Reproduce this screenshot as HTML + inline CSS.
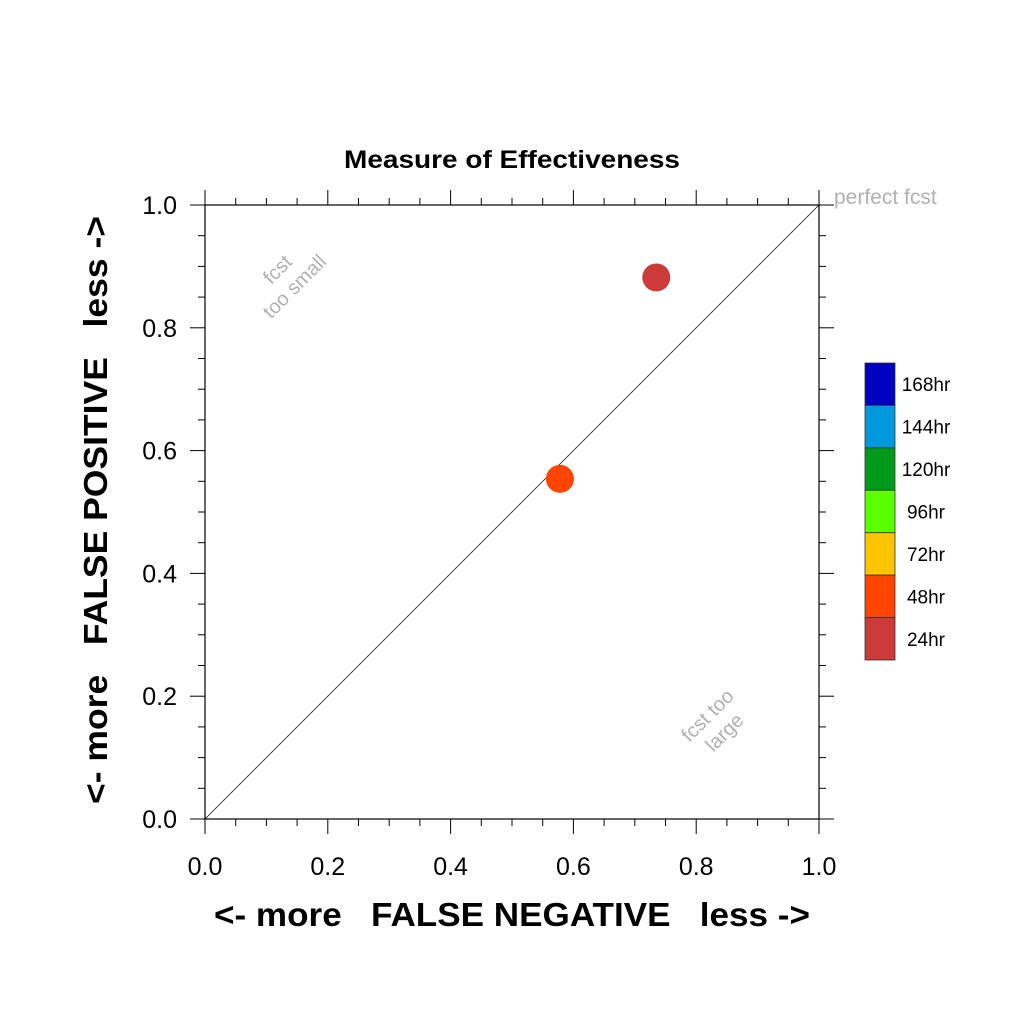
<!DOCTYPE html>
<html><head><meta charset="utf-8"><style>
body{margin:0;background:#fff}
svg{display:block;font-family:"Liberation Sans",sans-serif}
</style></head><body>
<svg id="c" width="1024" height="1024" viewBox="0 0 1024 1024">
<text x="512" y="168" text-anchor="middle" font-size="25" font-weight="bold" textLength="336" lengthAdjust="spacingAndGlyphs">Measure of Effectiveness</text>
<text x="512" y="926" text-anchor="middle" font-size="33" font-weight="bold" xml:space="preserve" textLength="596" lengthAdjust="spacingAndGlyphs">&lt;- more   FALSE NEGATIVE   less -&gt;</text>
<text transform="translate(107,510) rotate(-90)" text-anchor="middle" font-size="33" font-weight="bold" xml:space="preserve" textLength="588" lengthAdjust="spacingAndGlyphs">&lt;- more   FALSE POSITIVE   less -&gt;</text>
<text x="834" y="204" font-size="21" fill="#b0b0b0">perfect fcst</text>
<text transform="translate(290,282) rotate(-45)" text-anchor="middle" font-size="20" fill="#b0b0b0"><tspan x="0" y="-11">fcst</tspan><tspan x="0" y="13">too small</tspan></text>
<text transform="translate(720,728) rotate(-45)" text-anchor="middle" font-size="20" fill="#b0b0b0"><tspan x="0" y="-11">fcst too</tspan><tspan x="0" y="13">large</tspan></text>
<g id="axes"></g>
<g id="marks"></g>
<g id="legend"></g>
</svg>
<script>
const xTicks=[0.0,0.2,0.4,0.6,0.8,1.0];
const tickLabels=["0.0","0.2","0.4","0.6","0.8","1.0"];
const fnVals=[0.735,0.578];
const fpVals=[0.882,0.554];
const pointColors=["#cc3a3a","#ff4500"];
const legendLabels=["168hr","144hr","120hr","96hr","72hr","48hr","24hr"];
const legendColors=["#0000c0","#0099dd","#009919","#5aff00","#ffc400","#ff4500","#cc3a3a"];
const NS="http://www.w3.org/2000/svg";
const X0=205,X1=819,Y0=819,Y1=205;
const sx=v=>X0+(X1-X0)*v, sy=v=>Y0-(Y0-Y1)*v;
function mk(tag,attrs,parent){const e=document.createElementNS(NS,tag);for(const k in attrs)e.setAttribute(k,attrs[k]);parent.appendChild(e);return e;}
const ax=document.getElementById('axes');
const fr=mk('rect',{x:X0,y:Y1,width:X1-X0,height:Y0-Y1,fill:'none',stroke:'#000','stroke-width':1.2},ax);


const dg=mk('line',{x1:sx(0),y1:sy(0),x2:sx(1),y2:sy(1),stroke:'#000','stroke-width':0.7},ax);


for(let i=0;i<=20;i++){
  const v=i/20,maj=i%4===0,L=maj?15:7;
  const px=sx(v),py=sy(v);
  [[px,Y0,px,Y0+L],[px,Y1,px,Y1-L],[X0,py,X0-L,py],[X1,py,X1+L,py]].forEach(s=>{
    const t=mk('line',{x1:s[0],y1:s[1],x2:s[2],y2:s[3],stroke:'#000','stroke-width':1},ax);
    
    
  });
}
xTicks.forEach((v,i)=>{
  const tx=mk('text',{x:sx(v),y:875,'text-anchor':'middle','font-size':25},ax);
  tx.textContent=tickLabels[i];
  
  
  const ty=mk('text',{x:177,y:sy(v)+9,'text-anchor':'end','font-size':25},ax);
  ty.textContent=tickLabels[i];
  
  
});
const mg=document.getElementById('marks');
fnVals.forEach((v,i)=>{
  const c=mk('circle',{cx:sx(v),cy:sy(fpVals[i]),r:14,fill:pointColors[i]},mg);
  
  
});
const lg=document.getElementById('legend');
const bh=(660-363)/legendLabels.length;
legendLabels.forEach((lab,i)=>{
  const r=mk('rect',{x:865,y:363+i*bh,width:30,height:bh,fill:legendColors[i],stroke:'#333','stroke-width':0.8},lg);
  
  
  const t=mk('text',{x:926,y:363+i*bh+bh/2+7,'text-anchor':'middle','font-size':19},lg);
  t.textContent=lab;
  
  
});
</script>
</body></html>
